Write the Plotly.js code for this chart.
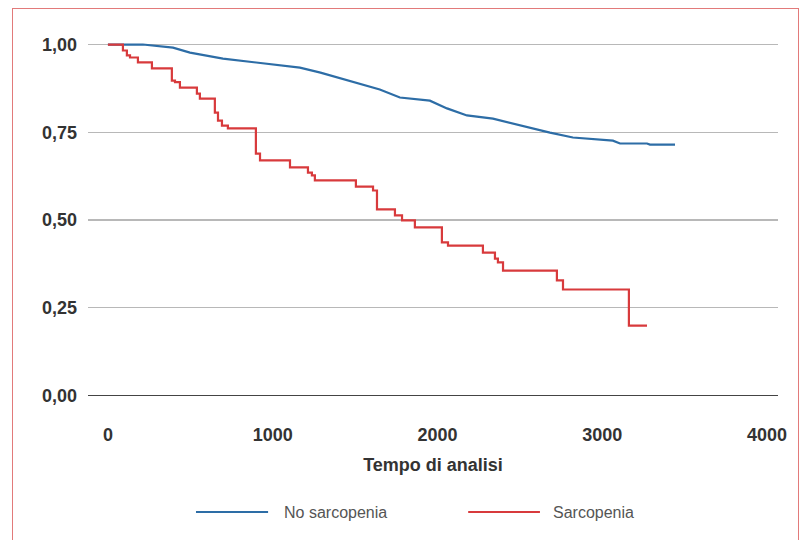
<!DOCTYPE html>
<html>
<head>
<meta charset="utf-8">
<script src="https://cdn.plot.ly/plotly-3.0.1.min.js"></script>
<style>
  html, body { margin: 0; padding: 0; background: #fff; }
  #wrap { position: relative; width: 808px; height: 540px; overflow: hidden; }
  #chart { width: 808px; height: 540px; }
  #frame { position: absolute; left: 12px; top: 8px; width: 787px; height: 560px;
           border: 1.5px solid #e27a7a; pointer-events: none; box-sizing: border-box; }
</style>
</head>
<body>
<div id="wrap"><div id="chart"></div><div id="frame"></div></div>
<script>
// Series: No sarcopenia (time, survival)
const noSarcTime = [0, 212, 395, 498, 698, 904, 1105, 1165, 1290, 1470, 1650, 1772, 1954, 2058, 2179, 2337, 2543, 2683, 2822, 3065, 3108, 3272, 3290, 3442];
const noSarcSurv = [1.0, 1.0, 0.991, 0.977, 0.960, 0.949, 0.937, 0.934, 0.920, 0.897, 0.872, 0.849, 0.840, 0.818, 0.798, 0.789, 0.764, 0.749, 0.735, 0.726, 0.718, 0.718, 0.715, 0.715];

// Series: Sarcopenia (time, survival) - step function
const sarcTime = [0, 91, 115, 134, 182, 267, 388, 407, 437, 540, 558, 649, 668, 692, 728, 898, 923, 1105, 1214, 1238, 1256, 1505, 1609, 1633, 1742, 1785, 1863, 2027, 2064, 2276, 2349, 2367, 2398, 2725, 2762, 3162, 3272];
const sarcSurv = [1.0, 0.983, 0.969, 0.963, 0.949, 0.932, 0.897, 0.893, 0.877, 0.860, 0.846, 0.806, 0.783, 0.769, 0.761, 0.689, 0.670, 0.650, 0.635, 0.627, 0.613, 0.595, 0.584, 0.530, 0.513, 0.499, 0.479, 0.436, 0.427, 0.407, 0.390, 0.379, 0.356, 0.328, 0.302, 0.199, 0.199];

// Tick labels
const xTickVals = [0, 1000, 2000, 3000, 4000];
const xTickText = ['0', '1000', '2000', '3000', '4000'];
const yTickVals = [0, 0.25, 0.5, 0.75, 1.0];
const yTickText = ['0,00', '0,25', '0,50', '0,75', '1,00'];
const seriesNames = ['No sarcopenia', 'Sarcopenia'];
const seriesColors = ['#2d6da6', '#d83a3c'];

const FONT = '"Liberation Sans Narrow", "Liberation Sans", Arial, sans-serif';

const traces = [
  { x: noSarcTime, y: noSarcSurv, type: 'scatter', mode: 'lines', name: seriesNames[0],
    line: { color: seriesColors[0], width: 2.2, shape: 'linear' } },
  { x: sarcTime, y: sarcSurv, type: 'scatter', mode: 'lines', name: seriesNames[1],
    line: { color: seriesColors[1], width: 2.2, shape: 'hv' } }
];

const layout = {
  width: 808, height: 540,
  margin: { l: 88, r: 30, t: 34, b: 134 },
  paper_bgcolor: '#fff', plot_bgcolor: '#fff',
  showlegend: false,
  font: { family: FONT, color: '#333' },
  xaxis: {
    range: [-121, 4067], showgrid: false, zeroline: false, showline: false, ticks: '',
    tickvals: xTickVals, ticktext: xTickText,
    tickfont: { family: FONT, size: 18, color: '#333', weight: 'bold' },
    ticklabelstandoff: 16,
    title: { text: 'Tempo di analisi', font: { family: FONT, size: 18, color: '#333', weight: 'bold' }, standoff: 14 }
  },
  yaxis: {
    range: [-0.03, 1.03], showgrid: true, gridcolor: '#b8b8b8', gridwidth: 1.5,
    zeroline: true, zerolinecolor: '#444', zerolinewidth: 1.5,
    showline: false, ticks: '',
    tickvals: yTickVals, ticktext: yTickText,
    tickfont: { family: FONT, size: 18, color: '#333', weight: 'bold' },
    ticklabelstandoff: 10
  },
  shapes: [
    { type: 'line', xref: 'paper', yref: 'paper', x0: 0.1565, x1: 0.261, y0: -0.285, y1: -0.285,
      line: { color: seriesColors[0], width: 2.2 } },
    { type: 'line', xref: 'paper', yref: 'paper', x0: 0.551, x1: 0.655, y0: -0.285, y1: -0.285,
      line: { color: seriesColors[1], width: 2.2 } }
  ],
  annotations: [
    { xref: 'paper', yref: 'paper', x: 0.281, y: -0.285, xanchor: 'left', yanchor: 'middle',
      text: seriesNames[0], showarrow: false, font: { family: FONT, size: 16, color: '#555' } },
    { xref: 'paper', yref: 'paper', x: 0.671, y: -0.285, xanchor: 'left', yanchor: 'middle',
      text: seriesNames[1], showarrow: false, font: { family: FONT, size: 16, color: '#555' } }
  ]
};

Plotly.newPlot('chart', traces, layout, { displayModeBar: false, staticPlot: true });
</script>
</body>
</html>
